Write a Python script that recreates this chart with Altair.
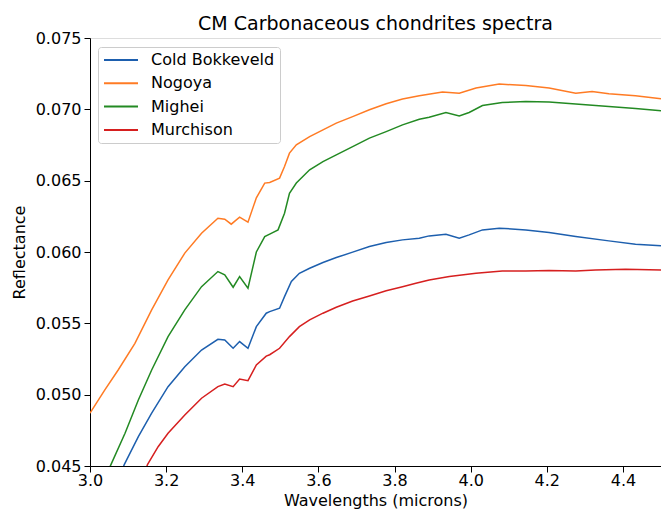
import altair as alt
import pandas as pd

# ---- data ----
series_names = ["Cold Bokkeveld", "Nogoya", "Mighei", "Murchison"]
series_colors = ["#1d5fae", "#ff7b24", "#238a23", "#d61f1f"]

cb_x = [3.082, 3.090, 3.127, 3.162, 3.205, 3.249, 3.293, 3.336, 3.354, 3.376, 3.393, 3.415,
        3.437, 3.463, 3.472, 3.498, 3.511, 3.529, 3.550, 3.577, 3.612, 3.647, 3.690, 3.734,
        3.778, 3.821, 3.865, 3.891, 3.935, 3.970, 3.996, 4.031, 4.075, 4.145, 4.206, 4.276,
        4.363, 4.433, 4.500]
cb_y = [0.0445, 0.0451, 0.04706, 0.04870, 0.05056, 0.05196, 0.05313, 0.05388, 0.05384, 0.05325,
        0.05372, 0.05325, 0.05477, 0.05571, 0.05582, 0.05606, 0.05687, 0.05793, 0.05851, 0.05886,
        0.05926, 0.05961, 0.05999, 0.06038, 0.06066, 0.06085, 0.06097, 0.06113, 0.06125, 0.06097,
        0.06120, 0.06155, 0.06167, 0.06155, 0.06136, 0.06108, 0.06078, 0.06055, 0.06043]

no_x = [3.000, 3.039, 3.074, 3.118, 3.162, 3.205, 3.249, 3.293, 3.336, 3.354, 3.371, 3.393,
        3.415, 3.437, 3.459, 3.472, 3.498, 3.511, 3.524, 3.542, 3.577, 3.612, 3.647, 3.690,
        3.734, 3.778, 3.821, 3.865, 3.926, 3.970, 4.014, 4.075, 4.145, 4.206, 4.276, 4.319,
        4.363, 4.433, 4.500]
no_y = [0.04870, 0.05033, 0.05173, 0.05360, 0.05594, 0.05804, 0.05992, 0.06132, 0.06237, 0.06230,
        0.06195, 0.06244, 0.06209, 0.06380, 0.06483, 0.06487, 0.06518, 0.06599, 0.06693, 0.06751,
        0.06809, 0.06856, 0.06903, 0.06949, 0.06997, 0.07039, 0.07072, 0.07095, 0.07121, 0.07113,
        0.07149, 0.07177, 0.07167, 0.07149, 0.07113, 0.07125, 0.07109, 0.07095, 0.07075]

mi_x = [3.045, 3.055, 3.092, 3.127, 3.162, 3.205, 3.249, 3.293, 3.336, 3.354, 3.376, 3.393,
        3.415, 3.437, 3.459, 3.472, 3.494, 3.511, 3.524, 3.542, 3.577, 3.612, 3.647, 3.690,
        3.734, 3.778, 3.821, 3.865, 3.891, 3.935, 3.970, 3.996, 4.031, 4.083, 4.145, 4.206,
        4.276, 4.363, 4.433, 4.500]
mi_y = [0.0445, 0.0451, 0.04729, 0.04963, 0.05173, 0.05407, 0.05594, 0.05757, 0.05863, 0.05840,
        0.05753, 0.05828, 0.05746, 0.06000, 0.06108, 0.06125, 0.06155, 0.06272, 0.06412, 0.06483,
        0.06576, 0.06634, 0.06681, 0.06739, 0.06798, 0.06844, 0.06891, 0.06931, 0.06945, 0.06978,
        0.06954, 0.06978, 0.07027, 0.07048, 0.07055, 0.07051, 0.07037, 0.07020, 0.07006, 0.06990]

mu_x = [3.143, 3.151, 3.179, 3.205, 3.249, 3.293, 3.336, 3.354, 3.376, 3.393, 3.415, 3.437,
        3.463, 3.472, 3.498, 3.524, 3.550, 3.577, 3.612, 3.647, 3.690, 3.734, 3.778, 3.821,
        3.856, 3.891, 3.944, 4.014, 4.083, 4.145, 4.206, 4.276, 4.328, 4.407, 4.500]
mu_y = [0.0445, 0.0451, 0.04635, 0.04729, 0.04858, 0.04975, 0.05056, 0.05075, 0.05056, 0.05109,
        0.05098, 0.05208, 0.05270, 0.05280, 0.05325, 0.05407, 0.05477, 0.05524, 0.05571, 0.05613,
        0.05657, 0.05692, 0.05729, 0.05757, 0.05781, 0.05804, 0.05828, 0.05851, 0.05867, 0.05867,
        0.05870, 0.05867, 0.05874, 0.05879, 0.05874]

x_ticks = [3.0, 3.2, 3.4, 3.6, 3.8, 4.0, 4.2, 4.4]
y_ticks = [0.045, 0.050, 0.055, 0.060, 0.065, 0.070, 0.075]

# ---- table ----
frames = []
for name, xs, ys in zip(series_names, [cb_x, no_x, mi_x, mu_x], [cb_y, no_y, mi_y, mu_y]):
    frames.append(pd.DataFrame({"wavelength": xs, "reflectance": ys, "series": name}))
df = pd.concat(frames, ignore_index=True)

FONT = "DejaVu Sans"
FS = 16

chart = alt.Chart(df).mark_line(clip=True, strokeWidth=1.5).encode(
    x=alt.X("wavelength:Q",
            scale=alt.Scale(domain=[3.0, 4.5], nice=False, zero=False),
            axis=alt.Axis(title="Wavelengths (microns)", values=x_ticks, format=".1f",
                          grid=False, tickSize=6, tickColor="black", domainColor="black",
                          labelFontSize=FS, titleFontSize=FS, labelFont=FONT, titleFont=FONT,
                          labelColor="black", titleColor="black", titleFontWeight="normal",
                          labelPadding=0, titlePadding=4, labelFlush=False)),
    y=alt.Y("reflectance:Q",
            scale=alt.Scale(domain=[0.045, 0.075], nice=False, zero=False),
            axis=alt.Axis(title="Reflectance", values=y_ticks, format=".3f",
                          grid=False, tickSize=6, tickColor="black", domainColor="black",
                          labelFontSize=FS, titleFontSize=FS, labelFont=FONT, titleFont=FONT,
                          labelColor="black", titleColor="black", titleFontWeight="normal",
                          labelPadding=3, titlePadding=8, labelFlush=False)),
    color=alt.Color("series:N",
                    scale=alt.Scale(domain=series_names, range=series_colors),
                    sort=series_names,
                    legend=alt.Legend(title=None, orient="none", legendX=8, legendY=9,
                                      symbolType="stroke", symbolSize=1156, symbolStrokeWidth=2,
                                      clipHeight=16, rowPadding=7.3,
                                      labelFontSize=FS, labelFont=FONT, labelColor="black",
                                      fillColor="white", strokeColor="#cccccc", padding=5,
                                      cornerRadius=3, labelOffset=12)),
).properties(
    width=571,
    height=428,
    title=alt.TitleParams("CM Carbonaceous chondrites spectra", font=FONT, fontSize=19,
                          fontWeight="normal", color="black", anchor="middle", offset=-4),
    autosize=alt.AutoSizeParams(type="none"),
    padding={"left": 90, "top": 38, "right": 0, "bottom": 49},
).configure_view(
    stroke="black", strokeWidth=1.2
).configure(background="white")

chart.save("out.html", embed_options={"renderer": "svg", "actions": False})
